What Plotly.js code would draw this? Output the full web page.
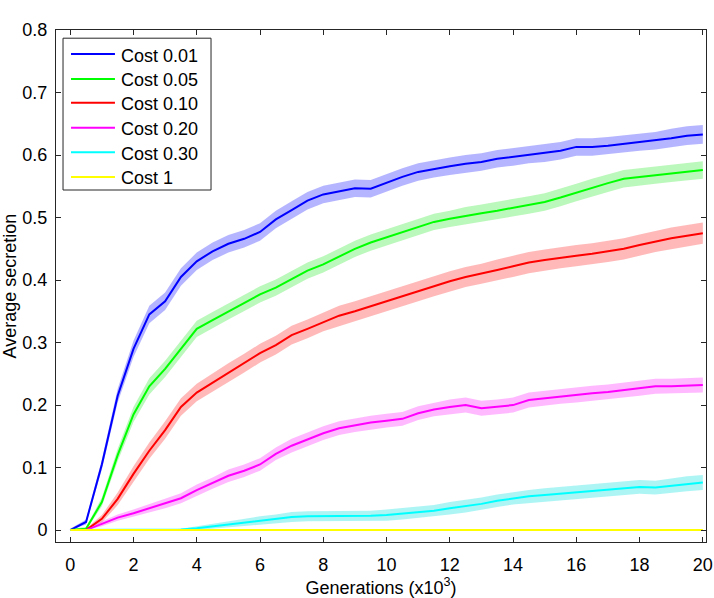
<!DOCTYPE html>
<html>
<head>
<meta charset="utf-8">
<script src="https://cdn.plot.ly/plotly-3.0.1.min.js"></script>
<style>
  html, body { margin: 0; padding: 0; background: #ffffff; }
  #chart { width: 714px; height: 598px; }
</style>
</head>
<body>
<div id="chart"></div>
<script>
// Generations, in thousands
const generations = [0,0.5,1,1.5,2,2.5,3,3.5,4,4.5,5,5.5,6,6.5,7,7.5,8,8.5,9,9.5,10,
  10.5,11,11.5,12,12.5,13,13.5,14,14.5,15,15.5,16,16.5,17,17.5,18,18.5,19,19.5,20];

// Mean secretion per cost level
const cost001 = [0,0.013,0.105,0.215,0.29,0.345,0.366,0.405,0.43,0.446,0.458,0.466,0.477,0.497,0.512,0.527,0.537,0.542,0.547,0.546,0.556,
  0.565,0.573,0.578,0.582,0.586,0.589,0.594,0.597,0.601,0.603,0.607,0.613,0.613,0.615,0.618,0.621,0.623,0.627,0.631,0.633];
const cost005 = [0,0.002,0.045,0.12,0.185,0.23,0.258,0.29,0.322,0.336,0.35,0.364,0.377,0.388,0.402,0.415,0.425,0.437,0.45,0.46,0.468,
  0.476,0.485,0.493,0.498,0.503,0.507,0.511,0.516,0.52,0.525,0.532,0.54,0.548,0.555,0.562,0.565,0.568,0.571,0.574,0.576];
const cost010 = [0,0,0.018,0.05,0.09,0.127,0.16,0.197,0.22,0.236,0.252,0.267,0.283,0.296,0.312,0.322,0.333,0.343,0.35,0.358,0.367,
  0.374,0.382,0.39,0.398,0.405,0.41,0.416,0.422,0.428,0.432,0.436,0.439,0.442,0.446,0.45,0.456,0.462,0.467,0.471,0.475];
const cost020 = [0,0,0.01,0.02,0.027,0.035,0.043,0.051,0.064,0.075,0.087,0.095,0.105,0.122,0.135,0.145,0.155,0.163,0.168,0.172,0.175,
  0.178,0.187,0.193,0.197,0.2,0.195,0.197,0.2,0.208,0.211,0.214,0.216,0.219,0.221,0.224,0.227,0.23,0.23,0.231,0.232];
const cost030 = [0,0,0,0,0,0,0,0.001,0.003,0.006,0.01,0.013,0.015,0.018,0.021,0.022,0.022,0.022,0.022,0.023,0.024,
  0.026,0.028,0.031,0.035,0.038,0.042,0.047,0.051,0.054,0.056,0.058,0.061,0.063,0.065,0.067,0.069,0.068,0.071,0.074,0.076];
const cost1 = [0,0,0,0,0,0,0,0,0,0,0,0,0,0,0,0,0,0,0,0,0,
  0,0,0,0,0,0,0,0,0,0,0,0,0,0,0,0,0,0,0,0];

// Half-width of the shaded spread around each mean
const spread001 = [0.002,0.004,0.008,0.011,0.013,0.014,0.014,0.014,0.014,0.014,0.014,0.014,0.014,0.014,0.014,0.014,0.014,0.014,0.014,0.014,0.014,
  0.014,0.014,0.014,0.014,0.014,0.014,0.014,0.014,0.014,0.014,0.014,0.014,0.014,0.014,0.014,0.014,0.014,0.015,0.015,0.015];
const spread005 = [0.002,0.003,0.007,0.010,0.012,0.013,0.013,0.013,0.013,0.013,0.013,0.013,0.013,0.013,0.013,0.013,0.013,0.013,0.013,0.013,0.013,
  0.013,0.013,0.013,0.013,0.014,0.014,0.014,0.014,0.014,0.014,0.014,0.014,0.014,0.014,0.014,0.014,0.014,0.014,0.014,0.014];
const spread010 = [0.001,0.002,0.006,0.010,0.012,0.013,0.014,0.014,0.014,0.015,0.015,0.015,0.015,0.015,0.015,0.015,0.015,0.016,0.016,0.016,0.016,
  0.016,0.016,0.016,0.016,0.016,0.016,0.017,0.017,0.017,0.017,0.017,0.017,0.017,0.017,0.017,0.017,0.017,0.017,0.017,0.017];
const spread020 = [0.001,0.002,0.004,0.005,0.006,0.007,0.008,0.008,0.009,0.009,0.010,0.010,0.010,0.010,0.011,0.011,0.011,0.011,0.011,0.011,0.011,
  0.011,0.011,0.011,0.012,0.012,0.012,0.012,0.012,0.012,0.012,0.012,0.012,0.012,0.012,0.012,0.012,0.012,0.012,0.012,0.012];
const spread030 = [0,0,0,0,0,0,0,0.001,0.003,0.004,0.005,0.006,0.007,0.007,0.008,0.008,0.008,0.008,0.008,0.008,0.009,
  0.009,0.009,0.009,0.010,0.010,0.010,0.010,0.010,0.010,0.011,0.011,0.011,0.011,0.011,0.011,0.011,0.011,0.012,0.012,0.012];

const seriesNames = ['Cost 0.01','Cost 0.05','Cost 0.10','Cost 0.20','Cost 0.30','Cost 1'];
const seriesMeans = [cost001, cost005, cost010, cost020, cost030, cost1];
const seriesSpreads = [spread001, spread005, spread010, spread020, spread030, null];
const lineColors = ['#0000ff','#00ff00','#ff0000','#ff00ff','#00ffff','#ffff00'];
const bandColors = ['rgba(60,60,255,0.38)','rgba(60,235,60,0.35)','rgba(255,70,70,0.38)',
  'rgba(255,70,255,0.38)','rgba(40,230,230,0.38)', null];

const FONT = 'Liberation Sans, Arial, Helvetica, sans-serif';
const traces = [];

// shaded spreads first, so every mean line sits on top
seriesMeans.forEach((m, i) => {
  const s = seriesSpreads[i];
  if (!s) return;
  const upper = m.map((v, k) => v + s[k]);
  const lower = m.map((v, k) => Math.max(0, v - s[k]));
  traces.push({
    x: generations.concat(generations.slice().reverse()),
    y: upper.concat(lower.slice().reverse()),
    type: 'scatter', mode: 'lines', fill: 'toself',
    fillcolor: bandColors[i], line: {width: 0, color: bandColors[i]},
    hoverinfo: 'skip', showlegend: false
  });
});

seriesMeans.forEach((m, i) => {
  traces.push({
    x: generations, y: m, type: 'scatter', mode: 'lines',
    name: seriesNames[i], line: {color: lineColors[i], width: 2},
    showlegend: false
  });
});

// Boxed legend in the upper-left corner (paper coordinates)
const legBox = {x0: 0.0108, x1: 0.2385, y0: 0.6875, y1: 0.984};
const rowY = [0.9805, 0.9320, 0.8855, 0.8365, 0.7885, 0.7405];
const shapes = [{
  type: 'rect', xref: 'paper', yref: 'paper',
  x0: legBox.x0, x1: legBox.x1, y0: legBox.y0, y1: legBox.y1,
  line: {color: '#262626', width: 1}, fillcolor: '#ffffff', layer: 'above'
}];
const annotations = [];
seriesNames.forEach((name, i) => {
  const yy = rowY[i] - 0.0275;
  shapes.push({
    type: 'line', xref: 'paper', yref: 'paper',
    x0: 0.0231, x1: 0.0907, y0: yy, y1: yy,
    line: {color: lineColors[i], width: 2}, layer: 'above'
  });
  annotations.push({
    xref: 'paper', yref: 'paper', x: 0.0975, y: yy - 0.003,
    xanchor: 'left', yanchor: 'middle', showarrow: false,
    text: name, font: {family: FONT, size: 18, color: '#000000'}
  });
});

const layout = {
  width: 714, height: 598,
  margin: {l: 56, r: 8, t: 30, b: 56, pad: 0},
  paper_bgcolor: '#ffffff', plot_bgcolor: '#ffffff',
  showlegend: false,
  font: {family: FONT, size: 18, color: '#000000'},
  xaxis: {
    range: [-0.45, 20.1], tickvals: [0,2,4,6,8,10,12,14,16,18,20],
    ticks: 'inside', ticklen: 5, tickcolor: '#262626', tickwidth: 1,
    showline: true, linecolor: '#262626', linewidth: 1, mirror: 'allticks',
    showgrid: false, zeroline: false,
    tickfont: {family: FONT, size: 18, color: '#000000'},
    ticklabelstandoff: 6,
    title: {text: 'Generations (x10<sup>3</sup>)', font: {family: FONT, size: 18, color: '#000000'}, standoff: 8}
  },
  yaxis: {
    range: [-0.019, 0.8], tickvals: [0,0.1,0.2,0.3,0.4,0.5,0.6,0.7,0.8],
    ticktext: ['0','0.1','0.2','0.3','0.4','0.5','0.6','0.7','0.8'],
    ticks: 'inside', ticklen: 5, tickcolor: '#262626', tickwidth: 1,
    showline: true, linecolor: '#262626', linewidth: 1, mirror: 'allticks',
    showgrid: false, zeroline: false,
    tickfont: {family: FONT, size: 18, color: '#000000'},
    ticklabelstandoff: 4,
    title: {text: 'Average secretion', font: {family: FONT, size: 18, color: '#000000'}, standoff: 6}
  },
  shapes: shapes,
  annotations: annotations
};

Plotly.newPlot('chart', traces, layout, {displayModeBar: false, staticPlot: true});
</script>
</body>
</html>
